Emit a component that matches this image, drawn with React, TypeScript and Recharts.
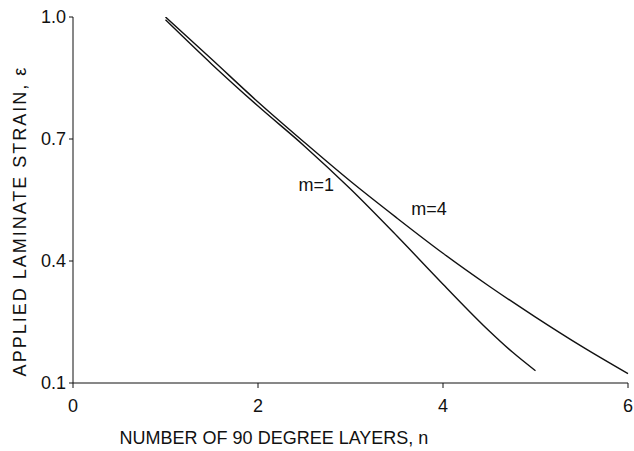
import { LineChart, Line, XAxis, YAxis, ReferenceDot } from "recharts";

const layersM1 = [1, 1.5, 2, 2.5, 3, 3.5, 4, 4.5, 4.75, 5];
const strainM1 = [0.993, 0.884, 0.781, 0.683, 0.577, 0.462, 0.343, 0.228, 0.176, 0.13];

const layersM4 = [1, 1.5, 2, 2.5, 3, 3.5, 4, 4.5, 5, 5.5, 6];
const strainM4 = [1.0, 0.896, 0.791, 0.692, 0.596, 0.506, 0.419, 0.338, 0.262, 0.19, 0.123];

const xTicks = [0, 2, 4, 6];
const yTicks = [0.1, 0.4, 0.7, 1.0];

const dataM1 = layersM1.map((n, i) => ({ n, strain: strainM1[i] }));
const dataM4 = layersM4.map((n, i) => ({ n, strain: strainM4[i] }));

const font = "'Liberation Sans', Arial, sans-serif";
const tickStyle = { fontSize: 18, fill: "#111", fontFamily: font };

export default function App() {
  return (
    <div style={{ position: "absolute", left: 0, top: 0, background: "#fff" }}>
      <LineChart width={634} height={451} margin={{ top: 17, right: 6, left: 0, bottom: 0 }}>
        <XAxis
          type="number"
          dataKey="n"
          domain={[0, 6]}
          ticks={xTicks}
          tick={tickStyle}
          tickSize={5}
          tickMargin={11}
          stroke="#111"
          height={68}
          label={{
            content: () => (
              <text x={274} y={444} textAnchor="middle" fontSize={18} fontFamily={font} fill="#111">
                NUMBER OF 90 DEGREE LAYERS, n
              </text>
            ),
          }}
        />
        <YAxis
          type="number"
          dataKey="strain"
          domain={[0.1, 1.0]}
          ticks={yTicks}
          tickFormatter={(v: number) => v.toFixed(1)}
          tick={tickStyle}
          tickSize={4}
          tickMargin={3}
          stroke="#111"
          width={73}
          allowDataOverflow
          label={{
            content: () => (
              <text
                x={20}
                y={221}
                textAnchor="middle"
                dominantBaseline="central"
                transform="rotate(-90 20 221)"
                fontSize={18}
                letterSpacing={2}
                fontFamily={font}
                fill="#111"
              >
                APPLIED LAMINATE STRAIN, ε
              </text>
            ),
          }}
        />
        <Line
          data={dataM1}
          dataKey="strain"
          type="monotone"
          stroke="#111"
          strokeWidth={1.4}
          dot={false}
          isAnimationActive={false}
        />
        <Line
          data={dataM4}
          dataKey="strain"
          type="monotone"
          stroke="#111"
          strokeWidth={1.4}
          dot={false}
          isAnimationActive={false}
        />
        <ReferenceDot
          x={2.63}
          y={0.589}
          r={1}
          fill="none"
          stroke="none"
          label={{ value: "m=1", position: "center", fontSize: 18, fontFamily: font, fill: "#111" }}
        />
        <ReferenceDot
          x={3.85}
          y={0.528}
          r={1}
          fill="none"
          stroke="none"
          label={{ value: "m=4", position: "center", fontSize: 18, fontFamily: font, fill: "#111" }}
        />
      </LineChart>
    </div>
  );
}
